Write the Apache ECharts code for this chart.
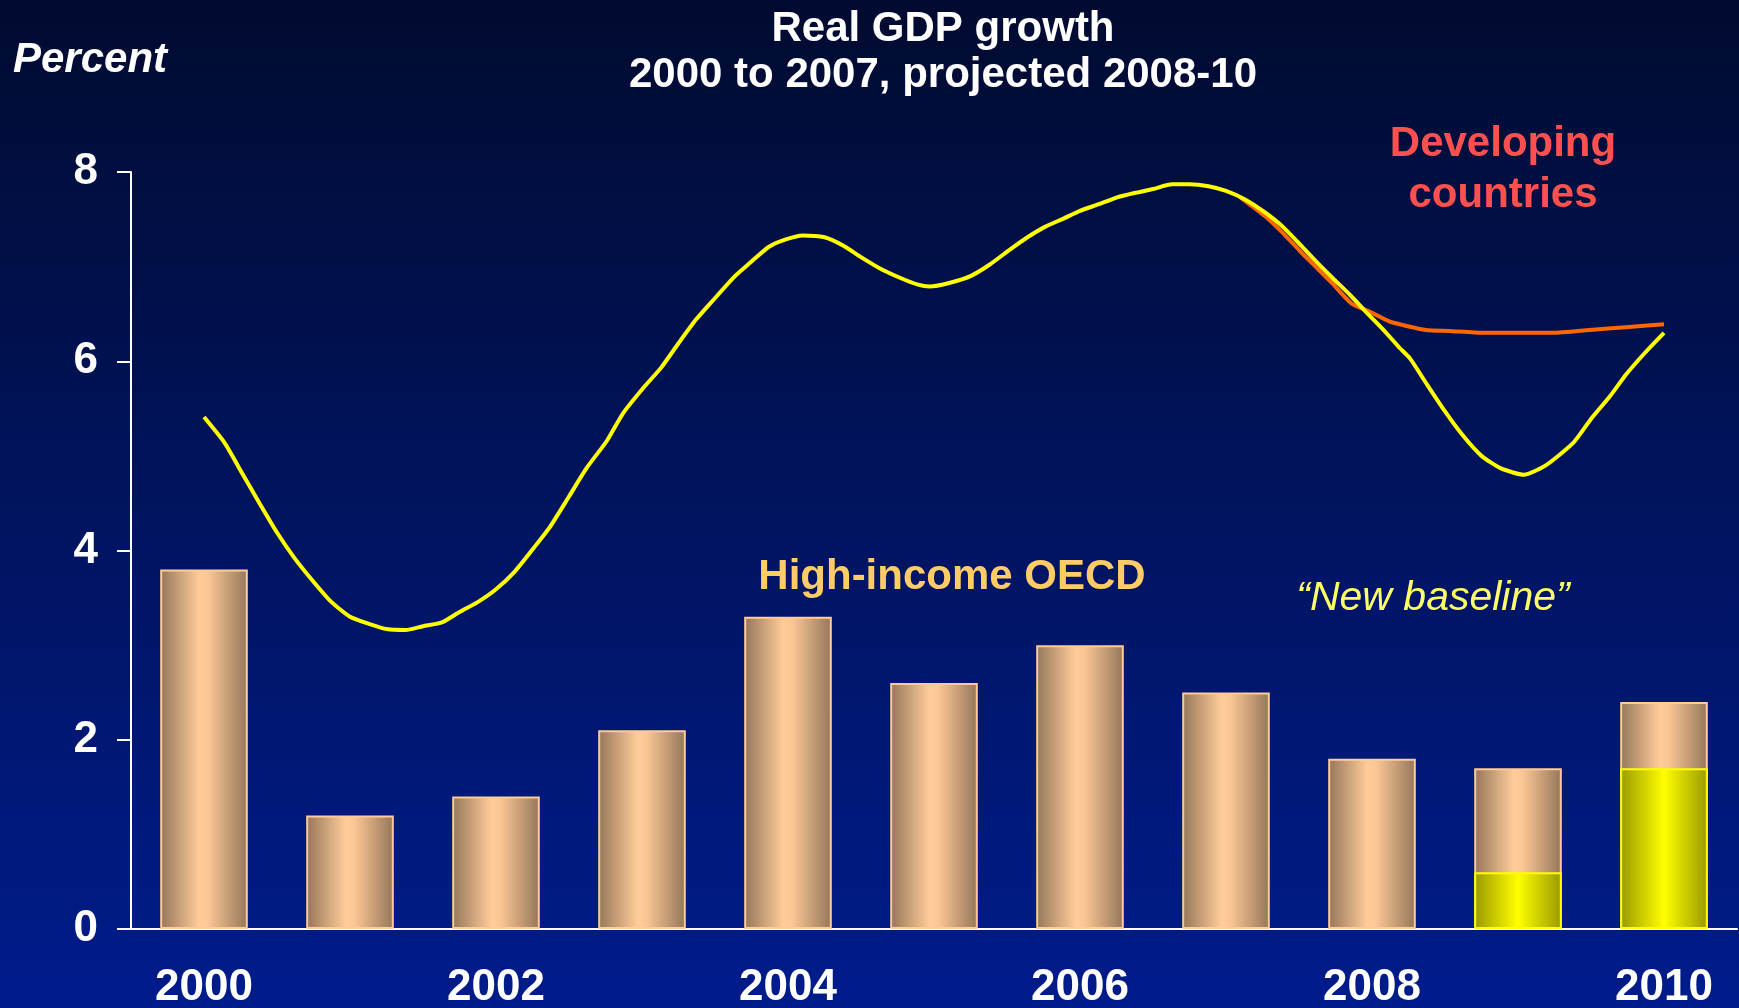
<!DOCTYPE html>
<html>
<head>
<meta charset="utf-8">
<title>Real GDP growth</title>
<script src="https://cdn.jsdelivr.net/npm/echarts@6/dist/echarts.min.js"></script>
<style>
  html, body { margin: 0; padding: 0; }
  #chart { width: 1739px; height: 1008px; }
</style>
</head>
<body>
<div id="chart"></div>
<script>
// categories and values
var years = ["2000", "2001", "2002", "2003", "2004", "2005", "2006", "2007", "2008", "2009", "2010"];
var highIncome = [3.8, 1.2, 1.4, 2.1, 3.3, 2.6, 3.0, 2.5, 1.8, 1.7, 2.4];
var highIncomeNew = [null, null, null, null, null, null, null, null, null, 0.6, 1.7];
var yTicks = [0, 2, 4, 6, 8];

// developing countries, [year, percent]
var developingNew = [
  [2000.00, 5.41], [2000.14, 5.14], [2000.26, 4.82], [2000.38, 4.50], [2000.50, 4.19],
  [2000.62, 3.92], [2000.75, 3.67], [2000.87, 3.46], [2001.00, 3.30], [2001.14, 3.22],
  [2001.25, 3.17], [2001.38, 3.16], [2001.50, 3.20], [2001.63, 3.24], [2001.75, 3.35],
  [2001.88, 3.46], [2002.00, 3.59], [2002.13, 3.78], [2002.26, 4.03], [2002.37, 4.25],
  [2002.50, 4.57], [2002.62, 4.87], [2002.76, 5.16], [2002.87, 5.45], [2003.01, 5.72],
  [2003.13, 5.93], [2003.25, 6.19], [2003.37, 6.44], [2003.49, 6.65], [2003.63, 6.89],
  [2003.74, 7.04], [2003.87, 7.21], [2003.99, 7.29], [2004.10, 7.33], [2004.25, 7.31],
  [2004.38, 7.22], [2004.50, 7.10], [2004.63, 6.98], [2004.77, 6.88], [2004.89, 6.81],
  [2004.97, 6.79], [2005.11, 6.83], [2005.25, 6.90], [2005.38, 7.02], [2005.52, 7.18],
  [2005.63, 7.30], [2005.76, 7.42], [2005.89, 7.51], [2006.00, 7.59], [2006.13, 7.66],
  [2006.25, 7.73], [2006.38, 7.78], [2006.50, 7.82], [2006.63, 7.87], [2006.75, 7.87],
  [2006.88, 7.85], [2007.00, 7.80], [2007.13, 7.71], [2007.26, 7.58], [2007.39, 7.42],
  [2007.51, 7.23], [2007.62, 7.05], [2007.73, 6.88], [2007.85, 6.70], [2007.96, 6.52],
  [2008.08, 6.33], [2008.19, 6.14], [2008.26, 6.03], [2008.37, 5.77], [2008.50, 5.47],
  [2008.62, 5.22], [2008.75, 5.00], [2008.88, 4.87], [2009.04, 4.80], [2009.19, 4.90],
  [2009.38, 5.14], [2009.50, 5.39], [2009.63, 5.63], [2009.74, 5.86], [2009.87, 6.09],
  [2010.00, 6.30]
];
var developingOld = [
  [2007.10, 7.73], [2007.27, 7.53], [2007.38, 7.37], [2007.51, 7.16], [2007.62, 6.99],
  [2007.73, 6.82], [2007.86, 6.61], [2007.99, 6.52], [2008.12, 6.42], [2008.37, 6.33],
  [2008.53, 6.32], [2008.76, 6.30], [2008.99, 6.30], [2009.24, 6.30], [2009.49, 6.33],
  [2009.74, 6.36], [2010.00, 6.39]
];

var FONT = '"Liberation Sans", Arial, Helvetica, sans-serif';

var myChart = echarts.init(document.getElementById("chart"), null, { renderer: "canvas" });

var tanGrad = {
  type: "linear", x: 0, y: 0, x2: 1, y2: 0,
  colorStops: [
    { offset: 0, color: "#94765a" },
    { offset: 0.45, color: "#ffcc99" },
    { offset: 0.55, color: "#fac695" },
    { offset: 1, color: "#94765a" }
  ]
};
var yellowGrad = {
  type: "linear", x: 0, y: 0, x2: 1, y2: 0,
  colorStops: [
    { offset: 0, color: "#999900" },
    { offset: 0.5, color: "#ffff00" },
    { offset: 1, color: "#999900" }
  ]
};

// helper for the free-floating slide texts
function label(text, x, y, font, color, align) {
  return {
    type: "text", x: x, y: y,
    style: {
      text: text, fill: color, font: font + " " + FONT,
      textAlign: align || "center", textVerticalAlign: "middle"
    }
  };
}

var option = {
  backgroundColor: {
    type: "linear", x: 0, y: 0, x2: 0, y2: 1,
    colorStops: [
      { offset: 0, color: "#010b30" },
      { offset: 1, color: "#001c8c" }
    ]
  },
  animation: false,
  grid: { left: 131, right: 2, top: 172, bottom: 79, outerBoundsMode: "none", containLabel: false },
  xAxis: [
    {
      type: "category",
      data: years,
      axisLine: { lineStyle: { color: "#ffffff", width: 2 } },
      axisTick: { interval: 1, length: 14, lineStyle: { color: "#ffffff", width: 2 } },
      axisLabel: {
        interval: 1, margin: 37, color: "#ffffff",
        fontFamily: FONT, fontWeight: "bold", fontSize: 44
      },
      splitLine: { show: false }
    },
    { type: "value", min: 1999.5, max: 2010.5, show: false }
  ],
  yAxis: {
    type: "value",
    min: yTicks[0],
    max: yTicks[yTicks.length - 1],
    interval: 2,
    axisLine: { show: true, lineStyle: { color: "#ffffff", width: 2 } },
    axisTick: { show: true, length: 14, lineStyle: { color: "#ffffff", width: 2 } },
    axisLabel: { margin: 33, color: "#ffffff", fontFamily: FONT, fontWeight: "bold", fontSize: 44 },
    splitLine: { show: false }
  },
  graphic: [
    label("Real GDP growth", 943, 29, "bold 42px", "#ffffff"),
    label("2000 to 2007, projected 2008-10", 943, 75, "bold 42px", "#ffffff"),
    label("Percent", 13, 60, "italic bold 42px", "#ffffff", "left"),
    label("Developing", 1503, 144, "bold 42px", "#ff5050"),
    label("countries", 1503, 195, "bold 42px", "#ff5050"),
    label("High-income OECD", 952, 577, "bold 42px", "#ffcc66"),
    label("\u201cNew baseline\u201d", 1433, 599, "italic 41px", "#ffff66")
  ],
  series: [
    {
      name: "High-income OECD",
      type: "bar",
      data: highIncome,
      barWidth: "60%",
      itemStyle: { color: tanGrad, borderColor: "#ffcc99", borderWidth: 2 }
    },
    {
      name: "High-income OECD new baseline",
      type: "bar",
      data: highIncomeNew,
      barWidth: "60%",
      barGap: "-100%",
      itemStyle: { color: yellowGrad, borderColor: "#ffff00", borderWidth: 2 }
    },
    {
      name: "Developing countries",
      type: "line",
      xAxisIndex: 1,
      data: developingOld,
      showSymbol: false,
      smooth: 0.2,
      lineStyle: { color: "#ff6600", width: 4 },
      z: 3
    },
    {
      name: "Developing countries new baseline",
      type: "line",
      xAxisIndex: 1,
      data: developingNew,
      showSymbol: false,
      smooth: 0.2,
      lineStyle: { color: "#ffff00", width: 4 },
      z: 4
    }
  ]
};

myChart.setOption(option);
</script>
</body>
</html>
